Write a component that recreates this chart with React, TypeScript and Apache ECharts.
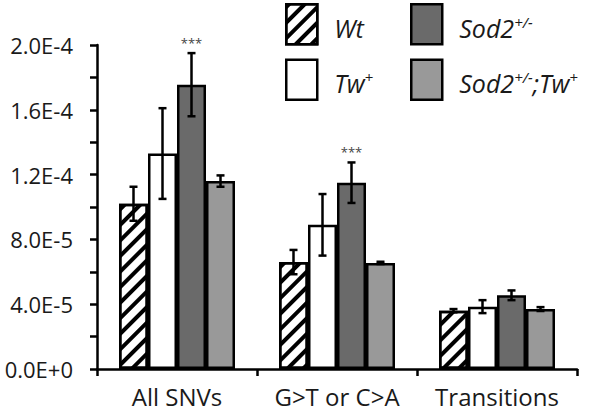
import React, { useEffect, useRef } from "react";
import * as echarts from "echarts";

const categories = ["All SNVs", "G>T or C>A", "Transitions"];
const seriesNames = ["Wt", "Tw+", "Sod2+/-", "Sod2+/-;Tw+"];
const wtValues = [1.02e-4, 0.66e-4, 0.36e-4];
const twValues = [1.33e-4, 0.89e-4, 0.385e-4];
const sodValues = [1.755e-4, 1.15e-4, 0.455e-4];
const sodTwValues = [1.16e-4, 0.655e-4, 0.37e-4];
const wtErr = [0.105e-4, 0.075e-4, 0.01e-4];
const twErr = [0.28e-4, 0.19e-4, 0.04e-4];
const sodErr = [0.195e-4, 0.125e-4, 0.03e-4];
const sodTwErr = [0.035e-4, 0.007e-4, 0.012e-4];
const sodStars = ["***", "***", ""];
const yTicks = { min: 0, max: 2e-4, interval: 2e-5 };

const BAR_CAT_GAP = 0.275;
const FONT = "'Open Sans', sans-serif";

export default function App() {
  const ref = useRef<HTMLDivElement>(null);
  useEffect(() => {
    if (!ref.current) return;
    const chart = echarts.init(ref.current, null, { renderer: "svg" });
    const values = [wtValues, twValues, sodValues, sodTwValues];
    const errs = [wtErr, twErr, sodErr, sodTwErr];
    const stars = [[], [], sodStars, []] as string[][];
    const errData: any[] = [];
    values.forEach((vals, si) => {
      vals.forEach((v, ci) => {
        errData.push([ci, v, errs[si][ci], si, (stars[si] && stars[si][ci]) || ""]);
      });
    });
    const styles = [
      {
        color: "#ffffff",
        borderColor: "#000",
        borderWidth: 2.5,
        decal: {
          symbol: "rect",
          symbolSize: 1,
          dashArrayX: [1, 0],
          dashArrayY: [3.5, 6.5],
          rotation: -Math.PI / 4,
          color: "#000",
        },
      },
      { color: "#ffffff", borderColor: "#000", borderWidth: 2.5 },
      { color: "#6a6a6a", borderColor: "#000", borderWidth: 2.5 },
      { color: "#999999", borderColor: "#000", borderWidth: 2.5 },
    ];
    const barSeries = values.map((vals, si) => ({
      type: "bar",
      name: seriesNames[si],
      data: vals,
      barGap: "0%",
      barCategoryGap: BAR_CAT_GAP * 100 + "%",
      itemStyle: styles[si],
      emphasis: { disabled: true },
    }));
    const richLegend = {
      i: { fontSize: 25, fontStyle: "italic", fontFamily: FONT, color: "#1a1a1a", lineHeight: 32, verticalAlign: "bottom" },
      s: { fontSize: 15, fontStyle: "italic", fontFamily: FONT, color: "#1a1a1a", lineHeight: 18, verticalAlign: "bottom", padding: [0, 0, 11, 0] },
    };
    const legendFormatter = (name: string) => {
      if (name === "Wt") return "{i|Wt}";
      if (name === "Tw+") return "{i|Tw}{s|+}";
      if (name === "Sod2+/-") return "{i|Sod2}{s|+/-}";
      return "{i|Sod2}{s|+/-}{i|;Tw}{s|+}";
    };
    const legendCommon = {
      orient: "vertical",
      top: 3,
      padding: 0,
      itemWidth: 31,
      itemHeight: 40,
      itemGap: 13,
      icon: "rect",
      selectedMode: false,
      formatter: legendFormatter,
      textStyle: { rich: richLegend, padding: [0, 0, 0, 12] },
      itemStyle: { borderColor: "#000", borderWidth: 2.5 },
    };
    chart.setOption({
      animation: false,
      grid: { left: 97, right: 21, top: 45, bottom: 45, containLabel: false },
      legend: [
        { ...legendCommon, left: 285, data: [seriesNames[0], seriesNames[1]] },
        { ...legendCommon, left: 410, data: [seriesNames[2], seriesNames[3]] },
      ],
      xAxis: {
        type: "category",
        data: categories,
        axisLine: { lineStyle: { color: "#000", width: 2.5 } },
        axisTick: { show: true, length: 7, lineStyle: { color: "#000", width: 2.5 } },
        axisLabel: { interval: 0, hideOverlap: false, fontFamily: FONT, fontSize: 24, color: "#1a1a1a", margin: 15 },
      },
      yAxis: {
        type: "value",
        min: yTicks.min,
        max: yTicks.max,
        interval: yTicks.interval,
        splitLine: { show: false },
        axisLine: { show: true, lineStyle: { color: "#000", width: 2.5 } },
        axisTick: { show: true, length: 7, lineStyle: { color: "#000", width: 2.5 } },
        axisLabel: {
          fontFamily: FONT,
          fontSize: 22,
          color: "#1a1a1a",
          margin: 24,
          formatter: (v: number) => {
            const k = Math.round(v / yTicks.interval);
            if (k % 2 === 1) return "";
            return v.toExponential(1).toUpperCase();
          },
        },
      },
      series: [
        ...barSeries,
        {
          type: "custom",
          name: "err",
          data: errData,
          z: 10,
          silent: true,
          renderItem: (params: any, api: any) => {
            const ci = api.value(0);
            const v = api.value(1);
            const e = api.value(2);
            const si = api.value(3);
            const star = errData[params.dataIndex][4];
            const band = api.size([1, 0])[0];
            const bw = (band * (1 - BAR_CAT_GAP)) / 4;
            const c = api.coord([ci, v]);
            const x = c[0] + (si - 1.5) * bw;
            const top = api.coord([ci, v + e])[1];
            const bot = api.coord([ci, v - e])[1];
            const cap = 4;
            const ls = { stroke: "#000", lineWidth: 2.5 };
            const children: any[] = [
              { type: "line", shape: { x1: x, y1: top, x2: x, y2: bot }, style: ls },
              { type: "line", shape: { x1: x - cap, y1: top, x2: x + cap, y2: top }, style: ls },
              { type: "line", shape: { x1: x - cap, y1: bot, x2: x + cap, y2: bot }, style: ls },
            ];
            if (star) {
              children.push({
                type: "text",
                x: x,
                y: top - 4,
                style: {
                  text: star,
                  fill: "#444",
                  fontSize: 13,
                  fontFamily: FONT,
                  align: "center",
                  verticalAlign: "bottom",
                },
              });
            }
            return { type: "group", children };
          },
        },
      ],
    } as any);
    return () => chart.dispose();
  }, []);
  return (
    <div
      ref={ref}
      style={{ position: "fixed", left: 0, top: 0, width: 598, height: 414, background: "#fff" }}
    />
  );
}
